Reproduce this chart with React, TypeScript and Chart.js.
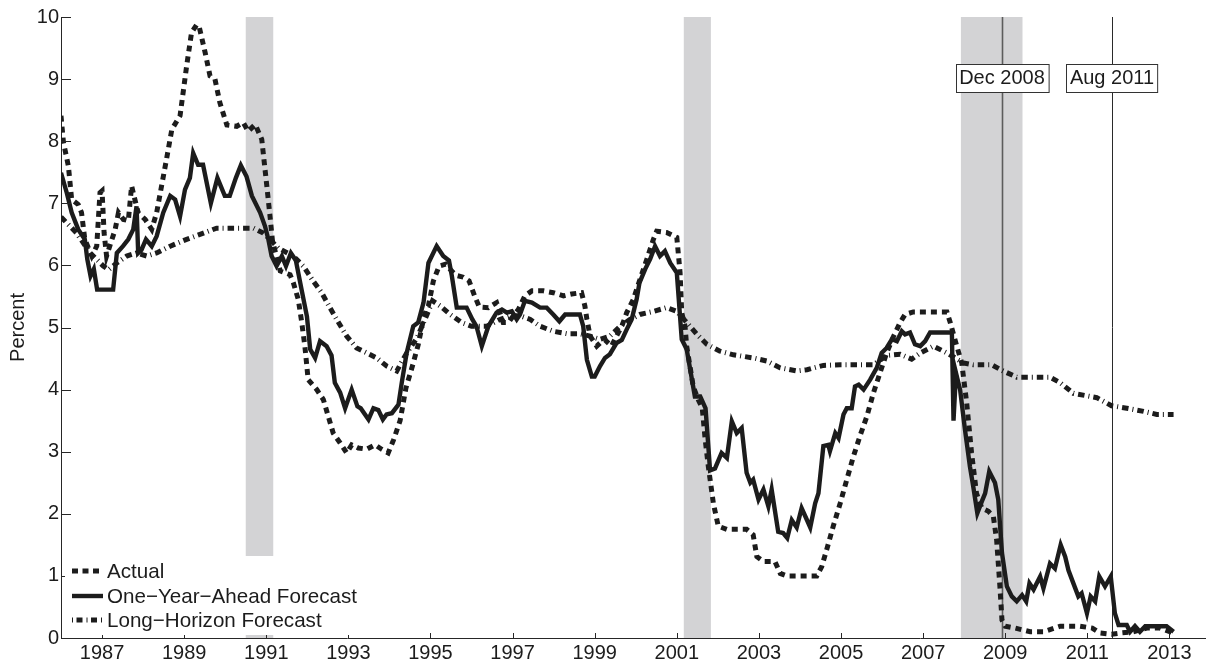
import { useEffect, useRef } from "react";
import { Chart, registerables } from "chart.js";

Chart.register(...registerables);

type Pt = [number, number];

// Monthly-ish readings: [decimal year, percent]
const actual: Pt[] = [
  [1986.0, 8.41], [1986.06, 7.98], [1986.18, 7.6], [1986.26, 7.06], [1986.42, 6.98], [1986.5, 6.85],
  [1986.58, 6.42], [1986.75, 6.15], [1986.87, 6.31], [1986.95, 7.17], [1987.0, 7.2], [1987.05, 6.52],
  [1987.11, 6.15], [1987.32, 6.58], [1987.4, 6.85], [1987.52, 6.74], [1987.64, 6.72], [1987.72, 7.28],
  [1987.8, 7.06], [1987.88, 6.85], [1988.05, 6.74], [1988.21, 6.58], [1988.33, 6.85], [1988.45, 7.28],
  [1988.57, 7.71], [1988.7, 8.19], [1988.9, 8.41], [1989.06, 9.21], [1989.18, 9.75], [1989.3, 9.87],
  [1989.36, 9.86], [1989.51, 9.43], [1989.63, 9.05], [1989.75, 9.0], [1989.87, 8.62], [1990.04, 8.26],
  [1990.28, 8.24], [1990.44, 8.3], [1990.56, 8.16], [1990.73, 8.27], [1990.89, 8.03], [1991.01, 7.3],
  [1991.09, 6.8], [1991.15, 6.4], [1991.34, 5.91], [1991.58, 5.85], [1991.66, 5.72], [1991.78, 5.45],
  [1991.86, 5.1], [1991.94, 4.7], [1992.02, 4.16], [1992.23, 4.0], [1992.39, 3.84], [1992.51, 3.57],
  [1992.63, 3.3], [1992.8, 3.14], [1992.96, 2.98], [1993.08, 3.11], [1993.24, 3.06], [1993.45, 3.04],
  [1993.65, 3.11], [1993.81, 3.04], [1993.97, 2.98], [1994.1, 3.19], [1994.26, 3.5], [1994.4, 4.02],
  [1994.56, 4.38], [1994.7, 4.72], [1994.85, 5.2], [1994.95, 5.35], [1995.07, 5.75], [1995.21, 5.99],
  [1995.37, 6.02], [1995.5, 5.92], [1995.62, 5.84], [1995.8, 5.81], [1995.94, 5.75], [1996.08, 5.5],
  [1996.19, 5.33], [1996.41, 5.32], [1996.61, 5.4], [1996.77, 5.08], [1996.9, 5.08], [1997.02, 5.19],
  [1997.14, 5.29], [1997.3, 5.51], [1997.47, 5.59], [1997.75, 5.59], [1997.99, 5.56], [1998.24, 5.51],
  [1998.44, 5.54], [1998.68, 5.56], [1998.76, 5.35], [1998.81, 5.13], [1998.89, 4.86], [1999.05, 4.7],
  [1999.13, 4.75], [1999.25, 4.8], [1999.41, 4.7], [1999.53, 4.86], [1999.66, 5.02], [1999.78, 5.24],
  [1999.94, 5.45], [2000.1, 5.77], [2000.27, 6.1], [2000.43, 6.42], [2000.51, 6.55], [2000.75, 6.53],
  [2001.0, 6.45], [2001.08, 5.88], [2001.12, 5.24], [2001.2, 5.02], [2001.24, 4.7], [2001.32, 4.38],
  [2001.4, 4.05], [2001.52, 3.84], [2001.62, 3.7], [2001.69, 3.2], [2001.77, 2.75], [2001.89, 2.17],
  [2002.01, 1.8], [2002.22, 1.75], [2002.7, 1.75], [2002.86, 1.66], [2002.95, 1.31], [2003.11, 1.23],
  [2003.39, 1.23], [2003.52, 1.04], [2003.68, 1.0], [2004.41, 1.0], [2004.53, 1.15], [2004.65, 1.42],
  [2004.81, 1.8], [2004.98, 2.17], [2005.14, 2.55], [2005.3, 2.92], [2005.46, 3.25], [2005.63, 3.57],
  [2005.79, 3.95], [2005.95, 4.27], [2006.11, 4.59], [2006.28, 4.86], [2006.44, 5.08], [2006.56, 5.21],
  [2006.76, 5.25], [2007.58, 5.25], [2007.66, 5.08], [2007.82, 4.7], [2007.94, 4.43], [2008.06, 3.79],
  [2008.18, 2.98], [2008.3, 2.33], [2008.43, 2.09], [2008.59, 2.04], [2008.71, 1.96], [2008.79, 1.58],
  [2008.87, 0.83], [2008.92, 0.29], [2009.0, 0.19], [2009.24, 0.16], [2009.61, 0.1], [2009.93, 0.1],
  [2010.34, 0.19], [2010.82, 0.19], [2011.12, 0.16], [2011.31, 0.08], [2011.59, 0.06], [2011.8, 0.08],
  [2012.12, 0.1], [2012.45, 0.16], [2012.77, 0.16], [2013.02, 0.1], [2013.14, 0.09],
];

const oneYearAhead: Pt[] = [
  [1986.0, 7.49], [1986.14, 7.17], [1986.26, 6.85], [1986.42, 6.58], [1986.58, 6.42], [1986.64, 6.1],
  [1986.72, 5.83], [1986.8, 5.94], [1986.88, 5.61], [1987.27, 5.61], [1987.36, 6.2], [1987.51, 6.31],
  [1987.64, 6.42], [1987.76, 6.58], [1987.84, 6.95], [1987.88, 6.2], [1987.96, 6.25], [1988.07, 6.42],
  [1988.21, 6.31], [1988.33, 6.47], [1988.49, 6.85], [1988.66, 7.12], [1988.78, 7.06], [1988.9, 6.79],
  [1989.02, 7.22], [1989.14, 7.41], [1989.22, 7.81], [1989.34, 7.62], [1989.46, 7.62], [1989.65, 7.0],
  [1989.81, 7.41], [1989.99, 7.12], [1990.11, 7.12], [1990.26, 7.41], [1990.38, 7.61], [1990.52, 7.43],
  [1990.65, 7.12], [1990.85, 6.85], [1990.97, 6.63], [1991.05, 6.42], [1991.13, 6.15], [1991.25, 5.99],
  [1991.38, 6.15], [1991.48, 5.99], [1991.6, 6.2], [1991.72, 6.08], [1991.86, 5.61], [1991.99, 5.18],
  [1992.07, 4.65], [1992.19, 4.51], [1992.31, 4.78], [1992.47, 4.7], [1992.59, 4.55], [1992.67, 4.11],
  [1992.8, 3.95], [1992.92, 3.7], [1993.08, 4.0], [1993.22, 3.73], [1993.3, 3.7], [1993.49, 3.52],
  [1993.61, 3.7], [1993.73, 3.67], [1993.84, 3.52], [1993.93, 3.6], [1994.06, 3.62], [1994.22, 3.76],
  [1994.3, 4.11], [1994.42, 4.59], [1994.58, 5.02], [1994.7, 5.08], [1994.83, 5.4], [1994.95, 6.04],
  [1995.15, 6.31], [1995.31, 6.15], [1995.45, 6.08], [1995.52, 5.83], [1995.64, 5.32], [1995.88, 5.32],
  [1996.02, 5.13], [1996.12, 5.02], [1996.25, 4.7], [1996.41, 5.02], [1996.61, 5.24], [1996.74, 5.29],
  [1996.86, 5.24], [1996.98, 5.26], [1997.1, 5.13], [1997.18, 5.21], [1997.3, 5.43], [1997.47, 5.4],
  [1997.67, 5.32], [1997.83, 5.32], [1997.99, 5.21], [1998.14, 5.1], [1998.28, 5.21], [1998.64, 5.21],
  [1998.72, 5.02], [1998.81, 4.48], [1998.93, 4.21], [1999.0, 4.21], [1999.13, 4.38], [1999.25, 4.51],
  [1999.37, 4.57], [1999.53, 4.75], [1999.66, 4.8], [1999.78, 4.97], [1999.9, 5.13], [2000.02, 5.45],
  [2000.09, 5.72], [2000.23, 5.94], [2000.35, 6.1], [2000.47, 6.31], [2000.59, 6.15], [2000.71, 6.23],
  [2000.84, 6.04], [2001.0, 5.88], [2001.12, 4.81], [2001.24, 4.65], [2001.44, 3.89], [2001.57, 3.89],
  [2001.7, 3.7], [2001.81, 2.7], [2001.93, 2.73], [2002.09, 2.98], [2002.22, 2.9], [2002.34, 3.49],
  [2002.46, 3.3], [2002.58, 3.38], [2002.7, 2.66], [2002.79, 2.5], [2002.86, 2.55], [2002.99, 2.23],
  [2003.11, 2.39], [2003.23, 2.12], [2003.31, 2.39], [2003.47, 1.71], [2003.59, 1.69], [2003.69, 1.61],
  [2003.8, 1.9], [2003.92, 1.78], [2004.04, 2.09], [2004.17, 1.9], [2004.25, 1.78], [2004.37, 2.17],
  [2004.45, 2.33], [2004.57, 3.09], [2004.69, 3.11], [2004.73, 3.01], [2004.86, 3.3], [2004.94, 3.22],
  [2005.06, 3.6], [2005.14, 3.7], [2005.26, 3.7], [2005.34, 4.05], [2005.43, 4.08], [2005.55, 4.0],
  [2005.71, 4.16], [2005.87, 4.35], [2005.99, 4.59], [2006.11, 4.67], [2006.24, 4.81], [2006.36, 4.78],
  [2006.48, 4.94], [2006.56, 4.89], [2006.68, 4.92], [2006.8, 4.73], [2006.93, 4.7], [2007.05, 4.78],
  [2007.17, 4.92], [2007.7, 4.92], [2007.74, 3.5], [2007.8, 4.27], [2007.9, 4.0], [2008.02, 3.35],
  [2008.14, 2.76], [2008.22, 2.44], [2008.32, 2.01], [2008.43, 2.2], [2008.51, 2.33], [2008.61, 2.68],
  [2008.75, 2.5], [2008.83, 2.23], [2008.92, 1.37], [2009.04, 0.83], [2009.16, 0.67], [2009.28, 0.59],
  [2009.41, 0.69], [2009.51, 0.59], [2009.59, 0.88], [2009.69, 0.78], [2009.85, 0.99], [2009.93, 0.8],
  [2010.09, 1.2], [2010.21, 1.12], [2010.35, 1.5], [2010.46, 1.31], [2010.54, 1.09], [2010.66, 0.88],
  [2010.78, 0.67], [2010.86, 0.72], [2010.99, 0.4], [2011.08, 0.67], [2011.19, 0.59], [2011.29, 0.99],
  [2011.43, 0.83], [2011.57, 0.99], [2011.67, 0.4], [2011.76, 0.21], [2011.96, 0.21], [2012.04, 0.1],
  [2012.16, 0.19], [2012.28, 0.1], [2012.41, 0.19], [2012.93, 0.19], [2013.1, 0.1],
];

const longHorizon: Pt[] = [
  [1986.0, 6.78], [1986.38, 6.52], [1986.71, 6.2], [1987.03, 5.99], [1987.16, 5.93], [1987.36, 6.04],
  [1987.6, 6.15], [1987.84, 6.2], [1988.09, 6.15], [1988.33, 6.2], [1988.66, 6.31], [1989.06, 6.42],
  [1989.47, 6.52], [1989.79, 6.6], [1990.69, 6.6], [1990.93, 6.52], [1991.09, 6.42], [1991.29, 6.28],
  [1991.66, 6.15], [1991.9, 5.99], [1992.14, 5.75], [1992.35, 5.56], [1992.55, 5.32], [1992.76, 5.08],
  [1992.96, 4.86], [1993.2, 4.67], [1993.45, 4.59], [1993.69, 4.51], [1993.93, 4.38], [1994.18, 4.3],
  [1994.42, 4.59], [1994.67, 4.83], [1994.91, 5.2], [1995.05, 5.43], [1995.23, 5.35], [1995.48, 5.21],
  [1995.76, 5.08], [1996.0, 5.02], [1996.37, 5.02], [1996.69, 5.13], [1996.94, 5.19], [1997.18, 5.19],
  [1997.43, 5.13], [1997.67, 5.02], [1997.99, 4.94], [1998.32, 4.9], [1998.64, 4.9], [1998.89, 4.86],
  [1999.13, 4.81], [1999.37, 4.86], [1999.62, 5.02], [1999.86, 5.13], [2000.1, 5.21], [2000.43, 5.26],
  [2000.75, 5.32], [2001.0, 5.26], [2001.24, 5.08], [2001.49, 4.89], [2001.73, 4.73], [2002.05, 4.62],
  [2002.38, 4.56], [2002.86, 4.51], [2003.19, 4.46], [2003.52, 4.35], [2003.92, 4.3], [2004.17, 4.32],
  [2004.57, 4.39], [2004.98, 4.4], [2005.79, 4.4], [2006.11, 4.55], [2006.44, 4.57], [2006.72, 4.49],
  [2006.93, 4.59], [2007.25, 4.7], [2007.58, 4.59], [2007.98, 4.43], [2008.22, 4.4], [2008.67, 4.4],
  [2008.95, 4.3], [2009.28, 4.2], [2010.09, 4.2], [2010.34, 4.11], [2010.66, 3.94], [2010.99, 3.9],
  [2011.23, 3.87], [2011.59, 3.74], [2011.96, 3.7], [2012.37, 3.65], [2012.69, 3.6], [2013.1, 3.6],
];

// NBER recessions, [start, end] in decimal years
const recessions: Pt[] = [
  [1990.5, 1991.17],
  [2001.17, 2001.83],
  [2007.92, 2009.42],
];

const eventDates = [2008.92, 2011.6];
const eventLabels = ["Dec 2008", "Aug 2011"];
const eventLabelLevel = 9.02;

const yearTicks = [1987, 1989, 1991, 1993, 1995, 1997, 1999, 2001, 2003, 2005, 2007, 2009, 2011, 2013];
const percentTicks = [0, 1, 2, 3, 4, 5, 6, 7, 8, 9, 10];

const seriesNames = ["Actual", "One\u2212Year\u2212Ahead Forecast", "Long\u2212Horizon Forecast"];

const FONT = '"Liberation Sans", Arial, Helvetica, sans-serif';
const INK = "#1c1c1c";
const AXIS = "#262626";
const BAND = "#d3d3d5";

const toXY = (pts: Pt[]) => pts.map(([x, y]) => ({ x, y }));

const legendDashes: number[][] = [[6, 4.5], [], [1, 3.5, 6, 4]];

const decorations = {
  id: "decorations",
  beforeDatasetsDraw(chart: any) {
    const { ctx, chartArea, scales } = chart;
    const { top, bottom } = chartArea;
    const x = scales.x;
    ctx.save();
    ctx.fillStyle = BAND;
    recessions.forEach(([a, b]) => {
      const l = x.getPixelForValue(a);
      const r = x.getPixelForValue(b);
      ctx.fillRect(l, top, r - l, bottom - top);
    });
    eventDates.forEach((d, i) => {
      const px = Math.round(x.getPixelForValue(d)) + 0.5;
      ctx.beginPath();
      ctx.strokeStyle = i === 0 ? "#5c5c5c" : "#2a2a2a";
      ctx.lineWidth = i === 0 ? 1.6 : 1;
      ctx.moveTo(px, top);
      ctx.lineTo(px, bottom);
      ctx.stroke();
    });
    ctx.restore();
  },
  afterDatasetsDraw(chart: any) {
    const { ctx, chartArea, scales } = chart;
    const { left, bottom } = chartArea;
    const x = scales.x;
    const y = scales.y;
    ctx.save();

    // inward tick marks
    ctx.strokeStyle = AXIS;
    ctx.lineWidth = 1;
    percentTicks.forEach((v) => {
      const py = Math.round(y.getPixelForValue(v)) + 0.5;
      ctx.beginPath();
      ctx.moveTo(left, py);
      ctx.lineTo(left + 10, py);
      ctx.stroke();
    });
    yearTicks.forEach((v) => {
      const px = Math.round(x.getPixelForValue(v)) + 0.5;
      ctx.beginPath();
      ctx.moveTo(px, bottom);
      ctx.lineTo(px, bottom - 5);
      ctx.stroke();
    });

    // event labels
    ctx.font = `20px ${FONT}`;
    ctx.textAlign = "center";
    ctx.textBaseline = "middle";
    eventDates.forEach((d, i) => {
      const cx = x.getPixelForValue(d);
      const cy = y.getPixelForValue(eventLabelLevel);
      const w = ctx.measureText(eventLabels[i]).width + 7;
      const h = 28;
      const bx = Math.round(cx - w / 2) + 0.5;
      const by = Math.round(cy - h / 2) + 0.5;
      ctx.fillStyle = "#ffffff";
      ctx.fillRect(bx, by, w, h);
      ctx.strokeStyle = "#333333";
      ctx.lineWidth = 1;
      ctx.strokeRect(bx, by, w, h);
      ctx.fillStyle = INK;
      ctx.fillText(eventLabels[i], cx, cy + 1);
    });

    // legend
    const lx = left + 4;
    const ly = bottom - 82;
    ctx.fillStyle = "#ffffff";
    ctx.fillRect(lx, ly, 293, 79);
    ctx.font = `20.6px ${FONT}`;
    const rows = [15, 40, 64];
    chart.data.datasets.forEach((ds: any, i: number) => {
      const ry = ly + rows[i];
      ctx.beginPath();
      ctx.strokeStyle = ds.borderColor;
      ctx.lineWidth = ds.borderWidth;
      ctx.lineCap = "butt";
      ctx.setLineDash(legendDashes[i]);
      ctx.moveTo(lx + 7, ry);
      ctx.lineTo(lx + 38, ry);
      ctx.stroke();
      ctx.setLineDash([]);
      ctx.fillStyle = INK;
      ctx.textAlign = "left";
      ctx.fillText(ds.label, lx + 42, ry + 1);
    });
    ctx.restore();
  },
};

export default function App() {
  const canvasRef = useRef<HTMLCanvasElement | null>(null);

  useEffect(() => {
    const canvas = canvasRef.current;
    if (!canvas) return;
    const tickFont = { family: FONT, size: 20 };
    const chart = new Chart(canvas, {
      type: "line",
      data: {
        datasets: [
          {
            label: seriesNames[0],
            data: toXY(actual),
            borderColor: INK,
            borderWidth: 5,
            borderDash: [6, 5],
            borderCapStyle: "butt",
            pointRadius: 0,
            tension: 0,
            fill: false,
            order: 3,
          },
          {
            label: seriesNames[1],
            data: toXY(oneYearAhead),
            borderColor: INK,
            borderWidth: 4.4,
            pointRadius: 0,
            tension: 0,
            fill: false,
            order: 2,
          },
          {
            label: seriesNames[2],
            data: toXY(longHorizon),
            borderColor: INK,
            borderWidth: 5,
            borderDash: [6.5, 4, 1, 4],
            borderCapStyle: "butt",
            pointRadius: 0,
            tension: 0,
            fill: false,
            order: 1,
          },
        ],
      } as any,
      options: {
        animation: false,
        responsive: false,
        devicePixelRatio: 1,
        events: [],
        layout: { padding: { top: 17, right: 0, bottom: 0, left: 0 } },
        plugins: { legend: { display: false }, tooltip: { enabled: false } },
        scales: {
          x: {
            type: "linear",
            min: 1986,
            max: 2013.89,
            afterBuildTicks: (s: any) => {
              s.ticks = yearTicks.map((v) => ({ value: v }));
            },
            afterFit: (s: any) => {
              s.height = 28;
            },
            grid: { display: false, drawTicks: false },
            border: { display: true, color: AXIS, width: 1 },
            ticks: {
              font: tickFont,
              color: INK,
              padding: 3,
              maxRotation: 0,
              autoSkip: false,
              callback: (v: any) => String(v),
            },
          },
          y: {
            type: "linear",
            min: 0,
            max: 10,
            afterBuildTicks: (s: any) => {
              s.ticks = percentTicks.map((v) => ({ value: v }));
            },
            afterFit: (s: any) => {
              s.width = 61;
            },
            grid: { display: false, drawTicks: false },
            border: { display: true, color: AXIS, width: 1 },
            ticks: {
              font: tickFont,
              color: INK,
              padding: 2,
              callback: (v: any) => String(v),
            },
            title: {
              display: true,
              text: "Percent",
              font: tickFont,
              color: INK,
              padding: { top: 6, bottom: 0 },
            },
          },
        },
      } as any,
      plugins: [decorations],
    });
    return () => chart.destroy();
  }, []);

  return (
    <div style={{ position: "absolute", left: 0, top: 0, width: 1206, height: 666, background: "#fff" }}>
      <canvas ref={canvasRef} width={1206} height={666} style={{ display: "block" }} />
    </div>
  );
}
